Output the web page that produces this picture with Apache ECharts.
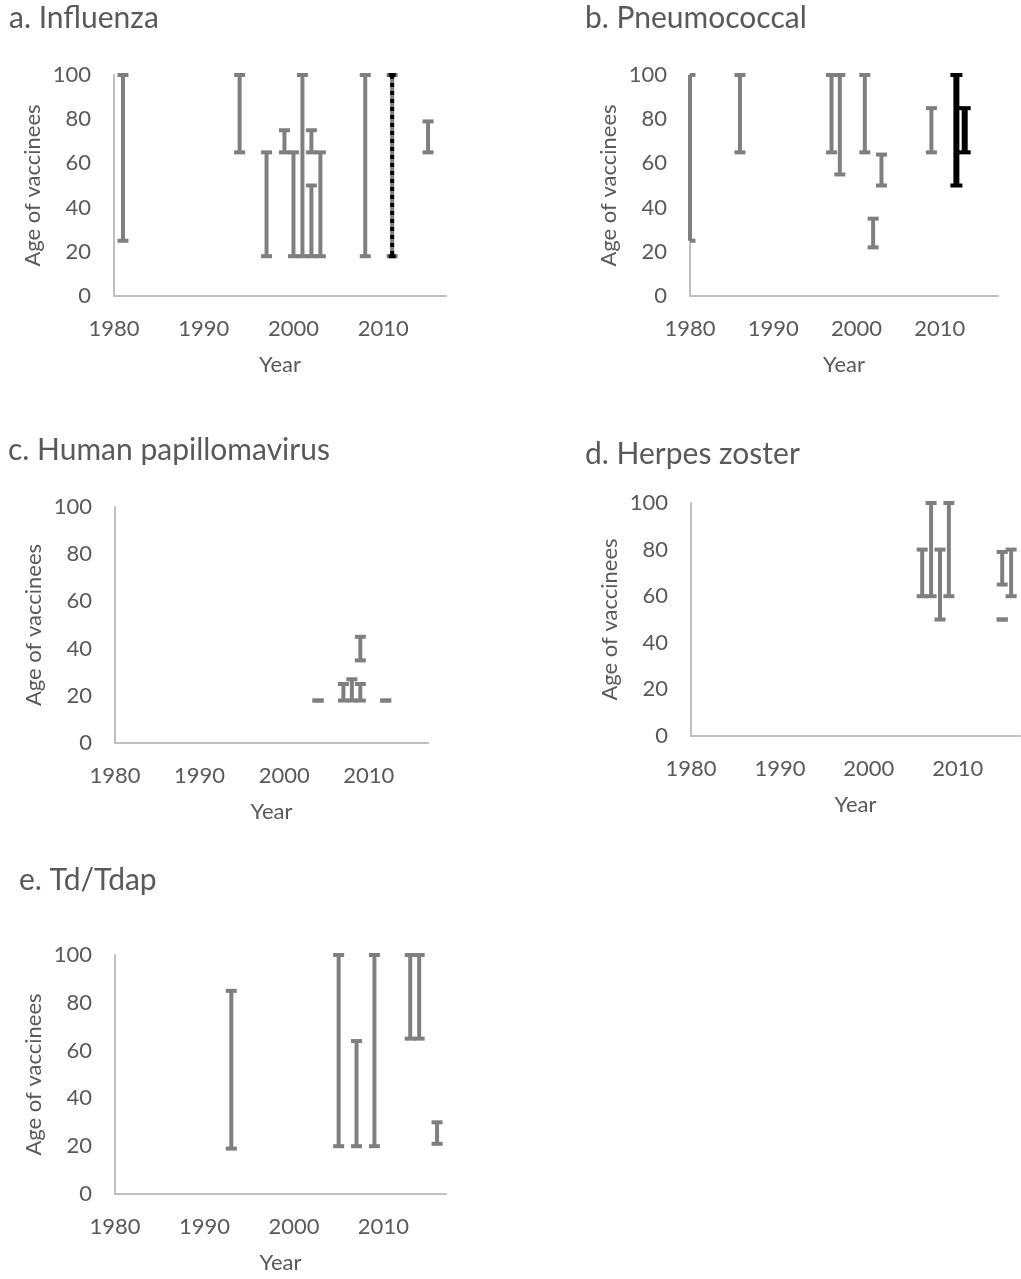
<!DOCTYPE html>
<html>
<head>
<meta charset="utf-8">
<script src="https://cdn.jsdelivr.net/npm/echarts@6/dist/echarts.min.js"></script>
<style>html,body{margin:0;padding:0;background:#fff}#c{width:1021px;height:1279px}</style>
</head>
<body>
<div id="c"></div>
<script>
// ---- Data (year, min age, max age of vaccinees) ----
const panelTitles = ['a. Influenza', 'b. Pneumococcal', 'c. Human papillomavirus', 'd. Herpes zoster', 'e. Td/Tdap'];
const xTickLabels = [1980, 1990, 2000, 2010];
const yTickLabels = [0, 20, 40, 60, 80, 100];

const influenzaYear = [1981, 1994, 1997, 1999, 2000, 2001, 2002, 2002, 2003, 2008, 2011, 2015];
const influenzaMin  = [25,   65,   18,   65,   18,   18,   65,   18,   18,   18,   18,   65];
const influenzaMax  = [100,  100,  65,   75,   65,   100,  75,   50,   65,   100,  100,  79];
const influenzaBoldYear = [2011];
const influenzaBoldMin  = [18];
const influenzaBoldMax  = [100];

const pneumoYear = [1980, 1986, 1997, 1998, 2001, 2002, 2003, 2009];
const pneumoMin  = [25,   65,   65,   55,   65,   22,   50,   65];
const pneumoMax  = [100,  100,  100,  100,  100,  35,   64,   85];
const pneumoBoldYear = [2012, 2013];
const pneumoBoldMin  = [50,   65];
const pneumoBoldMax  = [100,  85];

const hpvYear = [2004, 2007, 2008, 2009, 2009, 2012];
const hpvMin  = [18,   18,   18,   18,   35,   18];
const hpvMax  = [18,   25,   27,   25,   45,   18];

const zosterYear = [2006, 2007, 2008, 2009, 2015, 2015, 2016];
const zosterMin  = [60,   60,   50,   60,   65,   50,   60];
const zosterMax  = [80,   100,  80,   100,  79,   50,   80];

const tdapYear = [1993, 2005, 2007, 2009, 2013, 2014, 2016];
const tdapMin  = [19,   20,   20,   20,   65,   65,   21];
const tdapMax  = [85,   100,  64,   100,  100,  100,  30];

// ---- Build ----
const FONT = 'Lato';
const TXT = '#595959';
const GRAY = '#7f7f7f';
const AXIS = '#bfbfbf';

function zip(xs, lo, hi) { return xs.map((x, i) => [x, lo[i], hi[i]]); }

function barRenderer(kind) {
  return function (params, api) {
    const x = api.value(0), lo = api.value(1), hi = api.value(2);
    const pLo = api.coord([x, lo]);
    const pHi = api.coord([x, hi]);
    const cs = params.coordSys;
    const cx = pLo[0];
    const capHalf = kind === 'bold' ? 6 : 5.5;
    const capT = 4;
    const lw = kind === 'bold' ? 6 : 4;
    const color = kind === 'gray' ? GRAY : '#000';
    const l = Math.max(cx - capHalf, cs.x);
    const r = cx + capHalf;
    const children = [];
    if (kind === 'dotted') {
      children.push({ type: 'line', shape: { x1: cx, y1: pHi[1], x2: cx, y2: pLo[1] },
        style: { stroke: '#000', lineWidth: lw, lineDash: [4, 4] } });
      children.push({ type: 'rect', shape: { x: l + 2, y: pHi[1] - capT / 2, width: r - l - 4, height: capT }, style: { fill: '#000' } });
      children.push({ type: 'rect', shape: { x: l + 2, y: pLo[1] - capT / 2, width: r - l - 4, height: capT }, style: { fill: '#000' } });
    } else {
      children.push({ type: 'rect', shape: { x: cx - lw / 2, y: pHi[1], width: lw, height: pLo[1] - pHi[1] }, style: { fill: color } });
      children.push({ type: 'rect', shape: { x: l, y: pHi[1] - capT / 2, width: r - l, height: capT }, style: { fill: color } });
      children.push({ type: 'rect', shape: { x: l, y: pLo[1] - capT / 2, width: r - l, height: capT }, style: { fill: color } });
    }
    return { type: 'group', children };
  };
}

const grids = [
  { left: 114, top: 75,  width: 332, height: 221 },
  { left: 690, top: 75,  width: 308, height: 221 },
  { left: 115, top: 507, width: 313, height: 236 },
  { left: 691, top: 503, width: 329, height: 233 },
  { left: 115, top: 955, width: 331, height: 239 }
];
const titlePos = [[9, 3], [585, 3], [8, 435], [585, 439], [19, 865]];

const panels = [
  [['gray', zip(influenzaYear, influenzaMin, influenzaMax)], ['dotted', zip(influenzaBoldYear, influenzaBoldMin, influenzaBoldMax)]],
  [['gray', zip(pneumoYear, pneumoMin, pneumoMax)], ['bold', zip(pneumoBoldYear, pneumoBoldMin, pneumoBoldMax)]],
  [['gray', zip(hpvYear, hpvMin, hpvMax)]],
  [['gray', zip(zosterYear, zosterMin, zosterMax)]],
  [['gray', zip(tdapYear, tdapMin, tdapMax)]]
];

const xAxes = [], yAxes = [], series = [], titles = [];
grids.forEach((g, i) => {
  g.outerBoundsMode = 'none';
  g.containLabel = false;
  xAxes.push({
    gridIndex: i, type: 'value', min: xTickLabels[0], max: 2017, interval: 10,
    name: 'Year', nameLocation: 'middle', nameGap: 58,
    nameTextStyle: { fontFamily: FONT, fontSize: 22, color: TXT },
    axisLine: { show: true, onZero: false, lineStyle: { color: AXIS, width: 2 } },
    axisTick: { show: false }, splitLine: { show: false },
    axisLabel: { margin: 22, fontFamily: FONT, fontSize: 22, color: TXT,
      formatter: v => (xTickLabels.indexOf(v) >= 0 ? String(v) : '') }
  });
  yAxes.push({
    gridIndex: i, type: 'value', min: yTickLabels[0], max: yTickLabels[yTickLabels.length - 1], interval: 20,
    name: 'Age of vaccinees', nameLocation: 'middle', nameGap: 70,
    nameTextStyle: { fontFamily: FONT, fontSize: 22, color: TXT },
    axisLine: { show: true, onZero: false, lineStyle: { color: AXIS, width: 2 } },
    axisTick: { show: false }, splitLine: { show: false },
    axisLabel: { margin: 23, fontFamily: FONT, fontSize: 22, color: TXT }
  });
  titles.push({ text: panelTitles[i], left: titlePos[i][0], top: titlePos[i][1], padding: 0,
    textStyle: { fontFamily: FONT, fontSize: 30, fontWeight: 'normal', color: TXT } });
  panels[i].forEach(([kind, data]) => {
    series.push({ type: 'custom', xAxisIndex: i, yAxisIndex: i, clip: false,
      renderItem: barRenderer(kind), data, z: kind === 'gray' ? 2 : 3, silent: true });
  });
});

const chart = echarts.init(document.getElementById('c'), null, { renderer: 'canvas' });
chart.setOption({ animation: false, backgroundColor: '#fff', title: titles, grid: grids, xAxis: xAxes, yAxis: yAxes, series });
</script>
</body>
</html>
